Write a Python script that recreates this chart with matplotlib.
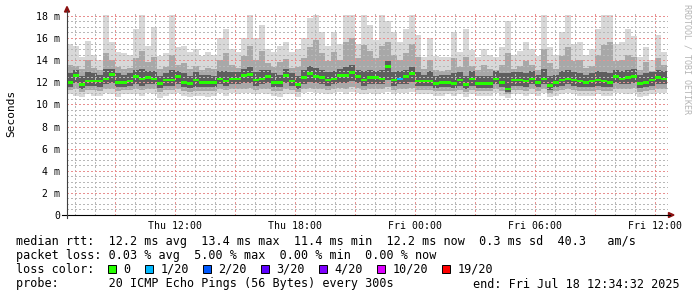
import numpy as np
import matplotlib
matplotlib.use('Agg')
import matplotlib.pyplot as plt
from matplotlib.patches import Rectangle, Polygon
from matplotlib.lines import Line2D

W, H = 697, 297
start_hour = 6.6      # Thu 06:36
step_hours = 0.3

rtt_median = [12.0,12.6,11.8,12.1,12.1,12.1,12.3,12.7,12.0,12.0,
              12.1,12.5,12.3,12.4,12.3,11.9,12.2,12.2,12.5,12.0,
              11.9,12.2,12.0,12.0,12.0,12.3,12.1,12.3,12.3,12.6,
              12.7,12.2,12.3,12.5,12.0,12.0,12.6,12.1,11.8,12.4,
              12.8,12.5,12.4,12.2,12.3,12.6,12.6,12.9,12.5,12.2,
              12.4,12.4,12.3,13.4,12.2,12.3,12.5,12.8,12.1,12.1,
              12.1,11.9,12.0,12.0,11.9,12.2,11.8,12.3,11.9,11.9,
              11.9,12.3,12.0,11.4,12.2,12.2,12.1,12.3,12.0,12.3,
              11.7,12.0,12.2,12.3,12.2,12.1,12.0,12.1,12.2,12.1,
              12.0,12.5,12.3,12.4,12.5,11.9,12.0,12.2,12.4,12.3]

rtt_max = [15.5,15.3,14.3,15.7,14.5,14.0,18.1,15.6,14.7,14.6,
           14.5,16.8,18.1,15.3,17.0,14.4,14.6,18.1,15.2,15.3,
           14.7,15.0,14.4,14.7,14.5,16.0,16.8,15.0,14.7,16.0,
           18.1,16.0,17.2,15.0,14.7,15.3,15.6,14.7,15.0,16.0,
           17.8,18.1,16.5,15.3,16.5,15.5,18.1,18.1,15.5,18.1,
           17.2,15.8,18.1,17.5,16.5,15.6,16.8,18.1,16.3,14.3,
           16.0,14.4,14.3,14.3,16.5,14.7,16.8,14.9,14.3,15.0,
           14.5,14.3,15.2,17.5,14.5,14.8,15.6,15.0,14.4,18.1,
           15.2,14.5,16.5,18.1,15.5,15.6,14.5,15.0,16.8,18.1,
           18.1,15.5,15.6,16.8,16.2,14.3,15.2,14.0,16.3,14.7]

rtt_p90 = [13.6,13.5,13.2,14.0,13.3,13.1,14.6,14.0,13.4,13.2,
           13.3,14.2,14.8,13.8,14.3,13.2,13.4,14.5,13.6,13.7,
           13.2,13.5,13.1,13.3,13.2,14.0,14.6,13.6,13.3,14.4,
           15.3,14.0,14.8,13.7,13.4,13.8,14.1,13.3,13.4,14.2,
           15.2,15.8,14.6,13.9,14.7,14.0,15.6,16.0,14.2,15.4,
           14.8,14.2,15.3,15.6,14.5,14.0,14.6,15.5,14.3,13.2,
           14.0,13.1,13.0,13.1,14.2,13.4,14.3,13.5,13.1,13.6,
           13.2,13.1,13.6,14.6,13.2,13.5,13.9,13.6,13.1,15.0,
           13.7,13.2,14.4,15.2,13.9,14.0,13.3,13.5,14.5,15.4,
           15.6,13.9,14.0,14.5,14.3,13.1,13.8,13.0,14.2,13.6]

rtt_p75 = [12.8,13.1,12.6,12.9,12.8,12.7,13.2,13.2,12.8,12.7,
           12.8,13.1,13.2,13.0,13.0,12.6,12.8,13.1,13.0,12.8,
           12.6,12.9,12.7,12.7,12.6,13.0,13.0,12.9,12.9,13.2,
           13.4,12.9,13.1,13.1,12.8,12.7,13.2,12.8,12.6,13.1,
           13.5,13.3,13.1,12.9,13.0,13.2,13.4,13.6,13.1,13.0,
           13.1,13.0,13.1,13.9,12.9,13.0,13.1,13.4,12.9,12.7,
           13.0,12.6,12.7,12.7,12.8,12.9,12.6,13.0,12.6,12.6,
           12.6,13.0,12.8,12.8,12.9,12.9,12.8,13.0,12.7,13.2,
           12.6,12.7,13.0,13.1,12.9,12.8,12.7,12.8,13.0,12.9,
           12.8,13.1,13.0,13.1,13.2,12.7,12.8,12.9,13.1,13.0]

rtt_p25 = [11.6,11.9,11.4,11.7,11.7,11.6,11.8,11.9,11.6,11.6,
           11.7,11.8,11.7,11.8,11.8,11.5,11.7,11.7,11.8,11.6,
           11.5,11.6,11.6,11.6,11.6,11.8,11.7,11.8,11.8,11.9,
           11.9,11.7,11.8,11.9,11.6,11.6,11.9,11.7,11.4,11.8,
           12.0,11.9,11.8,11.7,11.8,11.9,11.9,12.1,11.9,11.7,
           11.8,11.8,11.8,12.2,11.7,11.8,11.8,12.0,11.7,11.7,
           11.7,11.5,11.6,11.6,11.5,11.7,11.4,11.7,11.5,11.5,
           11.5,11.8,11.6,11.1,11.7,11.7,11.6,11.8,11.6,11.8,
           11.3,11.6,11.7,11.8,11.7,11.6,11.6,11.6,11.7,11.6,
           11.6,11.9,11.8,11.8,11.9,11.5,11.6,11.7,11.8,11.8]

rtt_p10 = [11.3,11.4,11.1,11.3,11.3,11.2,11.4,11.4,11.2,11.3,
           11.3,11.4,11.3,11.4,11.4,11.1,11.3,11.3,11.4,11.2,
           11.1,11.2,11.2,11.2,11.2,11.4,11.3,11.4,11.4,11.4,
           11.5,11.3,11.4,11.4,11.2,11.2,11.4,11.3,11.1,11.4,
           11.5,11.4,11.4,11.3,11.4,11.5,11.4,11.6,11.5,11.3,
           11.4,11.4,11.4,11.6,11.3,11.4,11.4,11.5,11.3,11.3,
           11.3,11.2,11.2,11.2,11.2,11.3,11.1,11.3,11.2,11.2,
           11.2,11.4,11.2,10.9,11.3,11.3,11.2,11.4,11.2,11.4,
           11.0,11.2,11.3,11.4,11.3,11.2,11.2,11.2,11.3,11.2,
           11.2,11.4,11.4,11.4,11.5,11.1,11.2,11.3,11.4,11.4]

rtt_min = [10.9,10.8,10.7,10.9,10.8,10.8,11.0,10.9,10.7,10.9,
           10.9,10.9,10.8,11.0,10.9,10.6,10.8,10.9,11.0,10.8,
           10.7,10.8,10.8,10.7,10.8,11.0,10.8,11.0,10.9,11.0,
           11.0,10.9,11.0,10.9,10.8,10.7,10.9,10.9,10.7,11.0,
           11.1,11.0,11.0,10.9,11.0,11.1,10.9,11.1,11.0,10.9,
           11.0,10.9,11.0,11.1,10.9,11.0,11.0,11.1,10.9,10.9,
           10.9,10.8,10.8,10.9,10.8,10.9,10.7,10.9,10.8,10.8,
           10.8,11.0,10.8,10.6,10.9,10.9,10.8,10.9,10.8,11.0,
           10.7,10.8,10.9,11.0,10.9,10.8,10.8,10.8,10.9,10.8,
           10.8,11.0,11.0,10.9,11.0,10.7,10.8,10.9,11.0,11.0]

loss_count = [0,0,0,0,0,0,0,0,0,0,
              0,0,0,0,0,0,0,0,0,0,
              0,0,0,0,0,0,0,0,0,0,
              0,0,0,0,0,0,0,0,0,0,
              0,0,0,0,0,0,0,0,0,0,
              0,0,0,0,0,1,0,0,0,0,
              0,0,0,0,0,0,0,0,0,0,
              0,0,0,0,0,0,0,0,0,0,
              0,0,0,0,0,0,0,0,0,0,
              0,0,0,0,0,0,0,0,0,0]

tick_hours = [12, 18, 24, 30, 36]
tick_labels = ['Thu 12:00', 'Thu 18:00', 'Fri 00:00', 'Fri 06:00', 'Fri 12:00']
ytick_values = [0, 2, 4, 6, 8, 10, 12, 14, 16, 18]
ytick_labels = ['0', '2 m', '4 m', '6 m', '8 m', '10 m', '12 m', '14 m', '16 m', '18 m']

loss_levels = [0, 1, 2, 3, 4, 10, 19]
loss_labels = ['0', '1/20', '2/20', '3/20', '4/20', '10/20', '19/20']
loss_colors = ['#26ff00', '#00b8ff', '#0059ff', '#5e00ff', '#7e00ff', '#dd00ff', '#ff0000']

legend_rtt = "median rtt:  12.2 ms avg  13.4 ms max  11.4 ms min  12.2 ms now  0.3 ms sd  40.3   am/s"
legend_loss = "packet loss: 0.03 % avg  5.00 % max  0.00 % min  0.00 % now"
legend_color = "loss color:"
legend_probe = "probe:       20 ICMP Echo Pings (56 Bytes) every 300s"
legend_end = "end: Fri Jul 18 12:34:32 2025"

MONO = 'DejaVu Sans Mono'

def fx(px):
    return px / W

def fy(py):
    return 1 - py / H

fig = plt.figure(figsize=(W / 100, H / 100), dpi=100)
fig.patch.set_facecolor('white')
ax = fig.add_axes([fx(67), fy(215), (668 - 67) / W, (215 - 13) / H])
ax.set_xlim(6.6, 36.65)
ax.set_ylim(0, 18.26)

n = len(rtt_median)
edges = start_hour + step_hours * np.arange(n + 1)

def band(lo, hi, color, z):
    lo = np.asarray(lo, float)
    hi = np.asarray(hi, float)
    ax.fill_between(edges, np.r_[lo, lo[-1]], np.r_[hi, hi[-1]], step='post',
                    color=color, lw=0, zorder=z, antialiased=False)

band(rtt_min, rtt_max, '#d8d8d8', 1)
band(rtt_p10, rtt_p90, '#a8a8a8', 1.1)
band(rtt_p25, rtt_p75, '#5e5e5e', 1.2)

# grid (dotted, like rrdtool)
dots = (0, (1.4, 2.2))
for h in range(7, 37):
    major = (h % 3 == 0)
    ax.axvline(h, color='#e89090' if major else '#b8b8b8', lw=0.72,
               ls=dots, zorder=3, antialiased=False)
for yv in np.arange(0.5, 18.01, 0.5):
    major = abs(yv % 2) < 1e-9
    ax.axhline(yv, color='#e89090' if major else '#b8b8b8', lw=0.72,
               ls=dots, zorder=3, antialiased=False)

# median, coloured by loss
half = 0.12
med = np.asarray(rtt_median, float)
cols = [loss_colors[loss_levels.index(c)] for c in loss_count]
ax.bar(edges[:-1], 2 * half, bottom=med - half, width=step_hours, align='edge',
       color=cols, lw=0, zorder=4)

for s in ax.spines.values():
    s.set_visible(False)

ax.set_xticks(tick_hours)
ax.set_xticklabels(tick_labels, fontfamily=MONO, fontsize=7.1)
ax.set_yticks(ytick_values)
ax.set_yticklabels(ytick_labels, fontfamily=MONO, fontsize=7.1)
ax.tick_params(axis='x', length=0, pad=4)
ax.tick_params(axis='y', length=0, pad=5)

# axis lines and arrows
fig.add_artist(Line2D([fx(62), fx(670)], [fy(215), fy(215)], color='black', lw=0.8))
fig.add_artist(Line2D([fx(67), fx(67)], [fy(218), fy(11)], color='#404040', lw=0.8))
fig.add_artist(Polygon([[fx(67), fy(6.5)], [fx(64.5), fy(12)], [fx(69.5), fy(12)]],
                       closed=True, color='#8b1010', transform=fig.transFigure))
fig.add_artist(Polygon([[fx(674), fy(215)], [fx(668.5), fy(212.5)], [fx(668.5), fy(217.5)]],
                       closed=True, color='#8b1010', transform=fig.transFigure))

fig.text(fx(11), fy(113), 'Seconds', rotation=90, ha='center', va='center',
         fontfamily=MONO, fontsize=8)
fig.text(fx(687), fy(4), 'RRDTOOL / TOBI OETIKER', rotation=270, ha='center', va='top',
         fontfamily=MONO, fontsize=6, color='#b4b4b4')

lf = 8.45
fig.text(fx(16), fy(245), legend_rtt, fontfamily=MONO, fontsize=lf, va='baseline')
fig.text(fx(16), fy(259), legend_loss, fontfamily=MONO, fontsize=lf, va='baseline')
fig.text(fx(16), fy(273), legend_color, fontfamily=MONO, fontsize=lf, va='baseline')
fig.text(fx(16), fy(287.5), legend_probe, fontfamily=MONO, fontsize=lf, va='baseline')
fig.text(fx(680), fy(287.5), legend_end, fontfamily=MONO, fontsize=lf, va='baseline', ha='right')

cw = 7.1
sx = 108.0
for lab, colr in zip(loss_labels, loss_colors):
    fig.add_artist(Rectangle((fx(sx), fy(272.5)), 8 / W, 8 / H, transform=fig.transFigure,
                             facecolor=colr, edgecolor='black', lw=0.7))
    lx = sx + 15.5
    fig.text(fx(lx), fy(273), lab, fontfamily=MONO, fontsize=lf, va='baseline')
    sx = lx + (len(lab) + 2) * cw

fig.savefig('out.png', dpi=100, facecolor='white')
